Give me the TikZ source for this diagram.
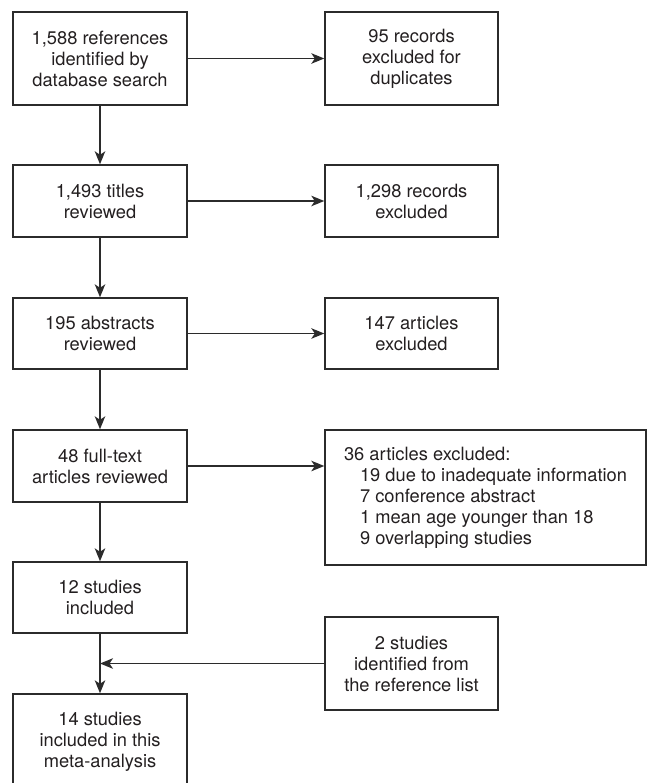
\documentclass[tikz,border=0pt]{standalone}
\usepackage{fontspec}
\setmainfont{TeX Gyre Heros}
\usetikzlibrary{arrows.meta}
\definecolor{ln}{HTML}{2B2B2B}
\definecolor{tx}{HTML}{231F20}
\tikzset{
  box/.style={draw=ln, line width=1.4pt, rectangle, inner sep=0pt, align=center, text=tx,
    font=\fontsize{18.3}{21}\selectfont},
  arr/.style={draw=ln, line width=1.4pt, -{Stealth[length=13pt,width=10.5pt,inset=3.5pt]}}
}
\begin{document}
\begin{tikzpicture}[x=1pt,y=-1pt]
\useasboundingbox (0,0) rectangle (648,783);
\node[box, minimum width=174pt, minimum height=93pt] (b1) at (100,58.5) {1,588 references\\identified by\\database search};
\node[box, minimum width=173pt, minimum height=93pt] (b2) at (411.5,58.5) {95 records\\excluded for\\duplicates};
\node[box, minimum width=174pt, minimum height=72pt] (b3) at (100,201) {1,493 titles\\reviewed};
\node[box, minimum width=173pt, minimum height=72pt] (b4) at (411.5,201) {1,298 records\\excluded};
\node[box, minimum width=174pt, minimum height=71pt] (b5) at (100,333.5) {195 abstracts\\reviewed};
\node[box, minimum width=173pt, minimum height=71pt] (b6) at (411.5,333.5) {147 articles\\excluded};
\node[box, minimum width=174pt, minimum height=72pt] (b7) at (100,466) {48 full-text\\articles reviewed};
\node[box, minimum width=321pt, minimum height=135pt, align=left] (b8) at (485.5,497.5) {36 articles excluded:\\\hspace*{16pt}19 due to inadequate information\\\hspace*{16pt}7 conference abstract\\\hspace*{16pt}1 mean age younger than 18\\\hspace*{16pt}9 overlapping studies};
\node[box, minimum width=174pt, minimum height=71pt] (b9) at (100,597.5) {12 studies\\included};
\node[box, minimum width=173pt, minimum height=93pt] (b10) at (411.5,663.5) {2 studies\\identified from\\the reference list};
\node[box, minimum width=174pt, minimum height=96pt] (b11) at (100,742) {14 studies\\included in this\\meta-analysis};
\coordinate (m) at (100,663.5);
\draw[arr] (b1) -- (b2);
\draw[arr] (b1) -- (b3);
\draw[arr] (b3) -- (b4);
\draw[arr] (b3) -- (b5);
\draw[arr] (b5) -- (b6);
\draw[arr] (b5) -- (b7);
\draw[arr] (b7.east) -- (b7.east -| b8.west);
\draw[arr] (b7) -- (b9);
\draw[arr] (b9) -- (b11);
\draw[arr] (b10.west) -- (m);
\end{tikzpicture}
\end{document}
